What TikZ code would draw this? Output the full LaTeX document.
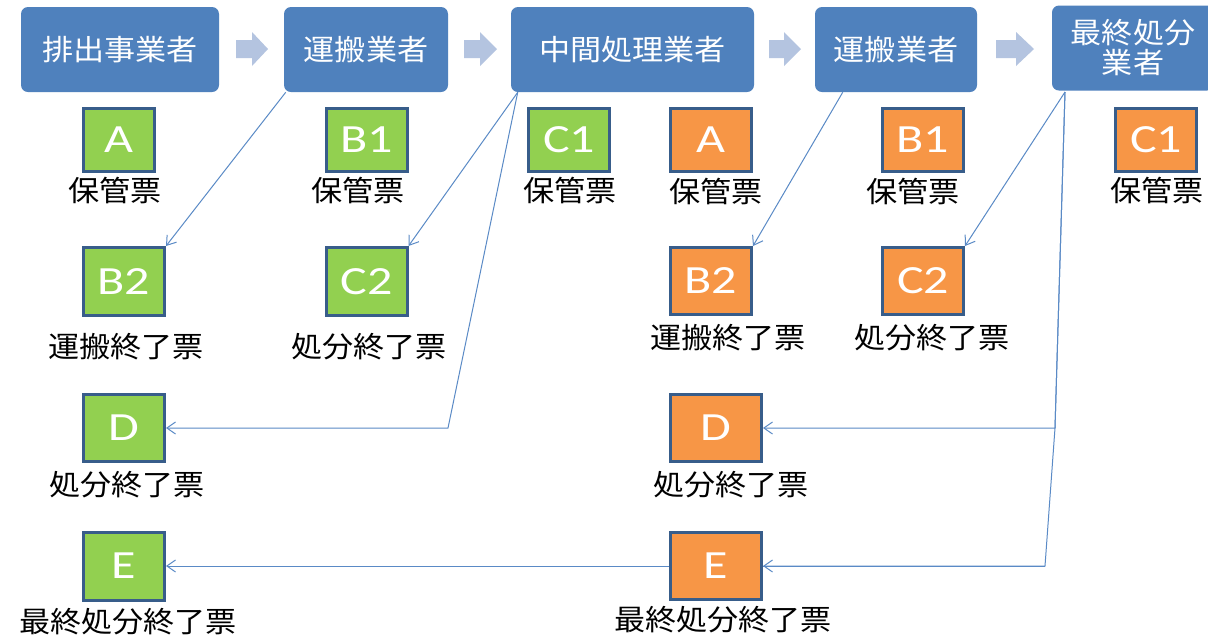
\documentclass[tikz,border=0pt]{standalone}
\usepackage{fontspec}
\newfontfamily\jp[FakeStretch=1.08]{Noto Sans CJK JP}
\newfontfamily\lat[FakeStretch=1.25]{Carlito}
\usetikzlibrary{arrows.meta,backgrounds}
\definecolor{topblue}{HTML}{4F81BD}
\definecolor{arrowcol}{HTML}{B4C4E0}
\definecolor{tgreen}{HTML}{92D050}
\definecolor{torange}{HTML}{F79646}
\definecolor{tborder}{HTML}{385D8A}
\definecolor{conncol}{HTML}{5A8AC6}
\begin{document}
\begin{tikzpicture}[x=0.75pt,y=-0.75pt,
  topbox/.style={fill=topblue, rounded corners=5.25pt, inner sep=0pt, minimum height=63.75pt,
    text=white, font=\jp\fontsize{21.6}{22.5}\selectfont, align=center},
  tkt/.style={draw=tborder, line width=2.25pt, inner sep=0pt, minimum width=60.75pt,
    minimum height=47.25pt, text=white, font=\lat\fontsize{30}{32}\selectfont},
  gt/.style={tkt, fill=tgreen},
  ot/.style={tkt, fill=torange},
  lbl/.style={font=\jp\fontsize{21.6}{26}\selectfont, inner sep=0pt, text=black},
  conn/.style={draw=conncol, line width=0.75pt, -{Straight Barb[length=6.5pt,width=9pt]}},
  barrow/.style={fill=arrowcol}]
\useasboundingbox (0,0) rectangle (1208,637);
\begin{scope}[on background layer]
\fill[white] (0,0) rectangle (1208,637);
\end{scope}

% top row
\node[topbox, minimum width=148.5pt] (t1) at (120,49.5) {排出事業者};
\node[topbox, minimum width=123pt] (t2) at (366,49.5) {運搬業者};
\node[topbox, minimum width=182.25pt] (t3) at (632.5,49.5) {中間処理業者};
\node[topbox, minimum width=121.5pt] (t4) at (896,49.5) {運搬業者};
\node[topbox, minimum width=121.5pt] (t5) at (1133,48) {最終処分\\業者};

% block arrows
\fill[barrow] (236,40) -- (252,40) -- (252,32) -- (268,49) -- (252,66) -- (252,58) -- (236,58) -- cycle;
\fill[barrow] (464,40) -- (480,40) -- (480,32) -- (497,49) -- (480,66) -- (480,58) -- (464,58) -- cycle;
\fill[barrow] (769,40) -- (784,40) -- (784,32) -- (801,49) -- (784,66) -- (784,58) -- (769,58) -- cycle;
\fill[barrow] (996,40) -- (1016,40) -- (1016,32) -- (1034,49) -- (1016,66) -- (1016,58) -- (996,58) -- cycle;

% tickets row 1
\node[gt, minimum width=53.25pt] (gA) at (119,140) {A};
\node[gt] (gB1) at (367,140) {B1};
\node[gt] (gC1) at (569,140) {C1};
\node[ot] (oA) at (711,140) {A};
\node[ot] (oB1) at (923,140) {B1};
\node[ot] (oC1) at (1156,140) {C1};
\node[lbl] (gAl) at (115,190) {保管票};
\node[lbl] (gB1l) at (358,190) {保管票};
\node[lbl] (gC1l) at (570,190) {保管票};
\node[lbl] (oAl) at (716,191) {保管票};
\node[lbl] (oB1l) at (913,191) {保管票};
\node[lbl] (oC1l) at (1157,190) {保管票};

% tickets row 2
\node[gt, minimum height=51pt] (gB2) at (124,281.5) {B2};
\node[gt, minimum height=51pt] (gC2) at (366.5,281.5) {C2};
\node[ot, minimum height=50.25pt] (oB2) at (711,281) {B2};
\node[ot, minimum height=50.25pt] (oC2) at (923,281) {C2};
\node[lbl] (gB2l) at (126,347) {運搬終了票};
\node[lbl] (gC2l) at (369,347) {処分終了票};
\node[lbl] (oB2l) at (728,338) {運搬終了票};
\node[lbl] (oC2l) at (932,338) {処分終了票};

% row 3
\node[gt, minimum height=50.25pt] (gD) at (124,428) {D};
\node[ot, minimum height=50.25pt, minimum width=68.25pt] (oD) at (716,428) {D};
\node[lbl] (gDl) at (127,485) {処分終了票};
\node[lbl] (oDl) at (731,485) {処分終了票};

% row 4
\node[gt, minimum height=51pt] (gE) at (124,566) {E};
\node[ot, minimum height=50.25pt, minimum width=68.25pt] (oE) at (716,566) {E};
\node[lbl] (gEl) at (128,622) {最終処分終了票};
\node[lbl] (oEl) at (723,620) {最終処分終了票};

% connectors
\coordinate (m1) at (448,428);
\coordinate (r1) at (1055,428);
\coordinate (r2) at (1045,566);
\coordinate (s5) at (1065,92);
\begin{scope}[on background layer]
\draw[conn] ([xshift=1.5pt]t2.south west) -- (gB2.north east);
\draw[conn] ([xshift=5.25pt]t3.south west) -- (gC2.north east);
\draw[conn] ([xshift=5.25pt]t3.south west) -- (m1) -- (gD.east);
\draw[conn] ([xshift=21pt]t4.south west) -- (oB2.north east);
\draw[conn] (s5) -- (oC2.north east);
\draw[conn] (s5) -- (r1) -- (oD.east);
\draw[conn] (s5) -- (r1) -- (r2) -- (oE.east);
\draw[conn] (r2) -- (gE.east);
\end{scope}
\end{tikzpicture}
\end{document}
